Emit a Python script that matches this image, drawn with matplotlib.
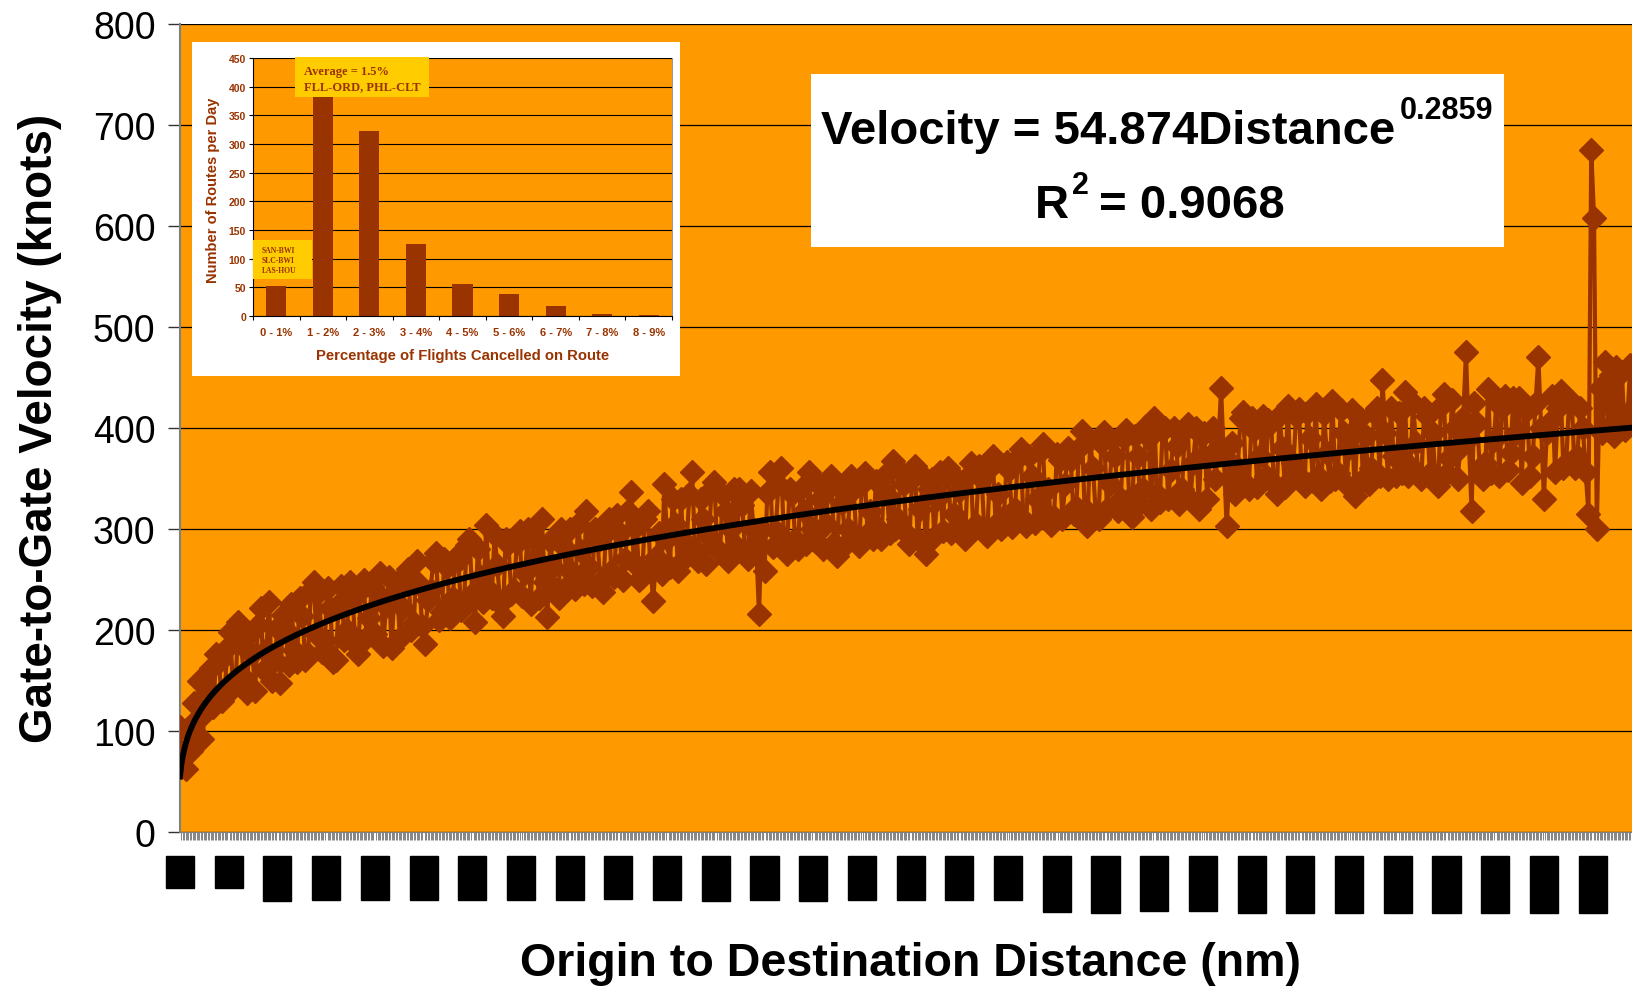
import numpy as np
import matplotlib.pyplot as plt
from matplotlib.patches import Rectangle

plt.rcParams['font.family'] = ['Liberation Sans', 'DejaVu Sans']

W, H = 1633, 987
ORANGE = '#FF9900'
BROWN = '#993300'
YELLOW = '#FFCC00'

# gate-to-gate velocity (knots), routes sorted by distance, every 2nd route
vel_short = [
    104, 78, 62, 100, 80, 128, 112, 150, 92, 118, 140, 162, 124, 176, 168, 130, 135, 182, 198, 146,
    150, 208, 186, 152, 138, 196, 176, 140, 205, 222, 160, 180, 228, 150, 170, 202, 148, 215, 200, 165,
    226, 180, 168, 232, 214, 170, 176, 240, 248, 196, 238, 178, 190, 242, 222, 168, 170, 226, 244, 190,
    200, 248, 232, 186, 176, 240, 250, 192, 212, 244, 196, 236, 256, 184, 224, 252, 182, 236, 240, 192,
    222, 254, 260, 200, 207, 268, 246, 204, 186, 230, 240, 268, 276, 210, 218, 270, 262, 212, 232, 272,
    268, 220, 226, 284, 290, 236, 208, 280, 252, 228, 304, 240, 232, 294, 264, 226, 214, 290, 285, 236,
    240, 286, 298, 234, 256, 300, 226, 290, 270, 232, 310, 248, 213, 288, 262, 240, 232, 300, 282, 244,
    300, 256, 241, 305, 278, 246, 318, 262, 244, 300, 288, 248, 238, 296, 310, 258, 252, 314, 296, 250,
]
vel_medium = [
    270, 318, 337, 266, 302, 250, 252, 310, 318, 262, 229, 272, 296, 255, 345, 290, 262, 330, 305, 258,
    330, 270, 285, 335, 356, 280, 268, 330, 310, 265, 292, 340, 347, 280, 277, 334, 318, 268, 300, 340,
    282, 340, 324, 276, 270, 338, 300, 285, 216, 300, 258, 336, 356, 282, 298, 345, 360, 290, 275, 340,
    335, 290, 280, 340, 318, 285, 356, 300, 288, 346, 330, 280, 305, 342, 352, 286, 273, 340, 326, 284,
    300, 352, 340, 292, 283, 345, 355, 296, 318, 290, 348, 300, 290, 352, 334, 296, 367, 300, 310, 356,
    345, 296, 285, 350, 362, 290, 320, 352, 275, 340, 350, 292, 330, 356, 298, 352, 360, 296, 315, 350,
    338, 300, 290, 352, 365, 300, 305, 362, 350, 298, 293, 360, 372, 305, 335, 300, 312, 366, 358, 302,
    320, 370, 379, 310, 303, 372, 352, 306, 330, 376, 384, 315, 340, 304, 312, 374, 368, 310, 345, 380,
    368, 315, 322, 380, 397, 320, 303, 388, 360, 315, 310, 385, 396, 320, 345, 388, 372, 318, 330, 390,
]
vel_long = [
    398, 330, 312, 392, 372, 326, 340, 402, 390, 320, 410, 335, 327, 398, 400, 330, 358, 400, 382, 325,
    340, 398, 404, 330, 365, 400, 320, 392, 395, 330, 372, 400, 350, 380, 440, 372, 303, 350, 385, 335,
    360, 410, 416, 345, 340, 410, 398, 342, 372, 412, 352, 408, 405, 345, 335, 412, 380, 342, 422, 350,
    365, 412, 419, 350, 343, 415, 390, 348, 424, 352, 340, 414, 375, 348, 427, 350, 355, 418, 395, 345,
    380, 418, 333, 400, 410, 350, 392, 345, 360, 415, 420, 352, 448, 395, 350, 420, 372, 352, 415, 355,
    436, 352, 362, 425, 385, 352, 350, 420, 412, 355, 395, 352, 343, 422, 434, 355, 370, 428, 400, 350,
    380, 410, 475, 390, 318, 425, 405, 360, 350, 365, 439, 355, 388, 428, 352, 420, 432, 358, 375, 430,
    395, 430, 346, 420, 418, 352, 372, 425, 470, 400, 330, 395, 405, 432, 356, 420, 437, 360, 365, 425,
    426, 360, 372, 420, 400, 356, 315, 675, 608, 300, 440, 395, 465, 400, 452, 392, 460, 405, 455, 398,
    410, 462, 420,
]
velocity = vel_short + vel_medium + vel_long
route_step = 2
n_routes = 1045

# trendline printed on the chart
coef, expo = 54.874, 0.2859

dist_labels = ['32', '98', '151', '203', '254', '305', '357', '408', '460', '511',
               '563', '614', '666', '717', '769', '820', '872', '923', '1011', '1066',
               '1122', '1178', '1235', '1293', '1352', '1413', '1476', '1541', '1609', '1680']
label_step = 35

# inset histogram
cancel_bins = ['0 - 1%', '1 - 2%', '2 - 3%', '3 - 4%', '4 - 5%', '5 - 6%', '6 - 7%', '7 - 8%', '8 - 9%']
routes_per_day = [53, 400, 323, 125, 55, 38, 17, 3, 2]


def fx(x):
    return x / W


def fy(y):
    return 1 - y / H


fig = plt.figure(figsize=(W / 100, H / 100), dpi=100)

# ---- main chart
ax = fig.add_axes([fx(180), fy(833), (W - 180) / W, (833 - 25) / H])
ax.set_facecolor(ORANGE)
cats = np.arange(len(velocity)) * route_step + 1
ax.plot(cats, velocity, color=BROWN, lw=3, marker='D', ms=12.5, mfc=BROWN, mec=BROWN, zorder=3)
tx = np.arange(1, n_routes + 1)
ax.plot(tx, coef * tx ** expo, color='black', lw=4.2, zorder=4, solid_joinstyle='round')

ax.set_xlim(1, n_routes)
ax.set_ylim(0, 800)
ax.set_yticks(range(0, 801, 100))
ax.yaxis.grid(True, color='black', lw=0.9)
ax.set_axisbelow(True)
for s in ['top', 'right']:
    ax.spines[s].set_visible(False)
ax.spines['left'].set_color('#7f7f7f')
ax.spines['left'].set_linewidth(1.5)
ax.spines['bottom'].set_color('#7f7f7f')
ax.tick_params(axis='y', labelsize=27, length=8.6, width=1, color='#333333', pad=9)

lab_pos = np.arange(len(dist_labels)) * label_step + 1
ax.set_xticks(lab_pos, labels=dist_labels, rotation=90, fontsize=16)
ax.set_xticks(np.arange(1, n_routes + 1, 1), minor=True)
ax.tick_params(axis='x', which='major', length=0, pad=20)
ax.tick_params(axis='x', which='minor', length=6, width=0.5, color='#555555')
for t in ax.get_xticklabels():
    t.set_bbox(dict(facecolor='black', edgecolor='black', pad=2.6))

fig.text(fx(40), fy(428), 'Gate-to-Gate Velocity (knots)', rotation=90, ha='center', va='center',
         fontsize=33, fontweight='bold')
fig.text(fx(911), fy(976), 'Origin to Destination Distance (nm)', ha='center', va='baseline',
         fontsize=33.5, fontweight='bold')

# ---- equation box
fig.add_artist(Rectangle((fx(811), fy(248)), (1504 - 811) / W, (248 - 75) / H,
                         transform=fig.transFigure, facecolor='white', edgecolor='none', zorder=1))
renderer = fig.canvas.get_renderer()


def eq_line(parts, base_y, center_x):
    # parts: (text, size, raise_px, gap_after_px)
    arts = []
    for txt, size, rise, gap in parts:
        arts.append((fig.text(0, fy(base_y - rise), txt, fontsize=size, fontweight='bold',
                              va='baseline', ha='left', zorder=5), gap))
    widths = [a.get_window_extent(renderer).width for a, g in arts]
    total = sum(widths) + sum(g for a, g in arts[:-1])
    x = center_x - total / 2
    for (a, g), w in zip(arts, widths):
        a.set_x(fx(x))
        x += w + g


eq_line([('Velocity = 54.874Distance', 34, 0, 4), ('0.2859', 22, 25, 0)], 144, 1157)
eq_line([('R', 34, 0, 3), ('2', 22, 24, 10), ('= 0.9068', 34, 0, 0)], 218, 1160)

# ---- inset histogram
fig.add_artist(Rectangle((fx(192), fy(377)), (680 - 192) / W, (377 - 43) / H,
                         transform=fig.transFigure, facecolor='white', edgecolor='none', zorder=1))
iax = fig.add_axes([fx(253), fy(317), 419 / W, 258 / H], zorder=2)
iax.set_facecolor(ORANGE)
iax.bar(range(len(cancel_bins)), routes_per_day, width=0.43, color=BROWN, zorder=2)
iax.set_xlim(-0.5, len(cancel_bins) - 0.5)
iax.set_ylim(0, 450)
iax.set_yticks(range(0, 451, 50))
iax.yaxis.grid(True, color='black', lw=0.8)
iax.set_axisbelow(True)
iax.set_xticks(range(len(cancel_bins)), labels=cancel_bins)
iax.set_xticks(np.arange(-0.5, len(cancel_bins)), minor=True)
iax.tick_params(axis='x', which='major', length=0, pad=8, labelsize=8, labelcolor=BROWN)
iax.tick_params(axis='x', which='minor', length=3, width=0.8)
iax.tick_params(axis='y', length=3, width=0.8, pad=2, labelsize=7.5, labelcolor=BROWN)
for t in iax.get_xticklabels() + iax.get_yticklabels():
    t.set_fontweight('bold')
iax.spines['top'].set_visible(False)
iax.spines['right'].set_color('#999999')
iax.spines['left'].set_color('black')
iax.spines['bottom'].set_color('black')
fig.text(fx(463), fy(356), 'Percentage of Flights Cancelled on Route', ha='center', va='center',
         fontsize=10.7, fontweight='bold', color=BROWN)
fig.text(fx(213), fy(190), 'Number of Routes per Day', rotation=90, ha='center', va='center',
         fontsize=10.5, fontweight='bold', color=BROWN)

# yellow call-outs
fig.add_artist(Rectangle((fx(295), fy(98)), (429 - 295) / W, (98 - 58) / H,
                         transform=fig.transFigure, facecolor=YELLOW, edgecolor='none', zorder=4))
for txt, by in [('Average = 1.5%', 75), ('FLL-ORD, PHL-CLT', 90)]:
    fig.text(fx(304), fy(by), txt, family=['Liberation Serif', 'DejaVu Serif'], fontweight='bold',
             fontsize=9, color=BROWN, va='baseline', zorder=5)
fig.add_artist(Rectangle((fx(253), fy(280)), (312 - 253) / W, (280 - 241) / H,
                         transform=fig.transFigure, facecolor=YELLOW, edgecolor='none', zorder=4))
for txt, by in [('SAN-BWI', 253), ('SLC-BWI', 263), ('LAS-HOU', 273)]:
    fig.text(fx(262), fy(by), txt, family=['Liberation Serif', 'DejaVu Serif'], fontweight='bold',
             fontsize=5.5, color=BROWN, va='baseline', zorder=5)

fig.savefig('out.png', dpi=100)
